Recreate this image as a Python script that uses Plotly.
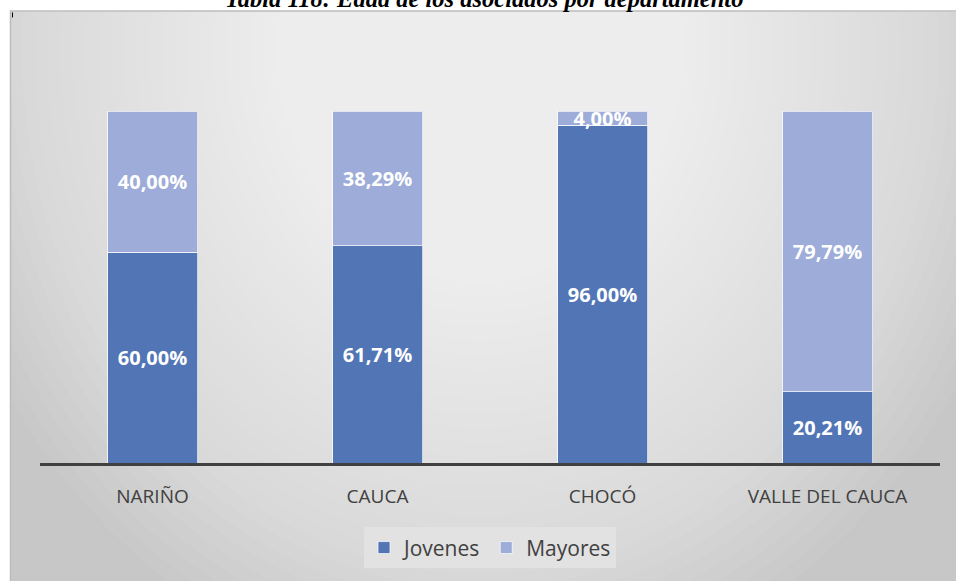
import plotly.graph_objects as go

departamentos = ['NARIÑO', 'CAUCA', 'CHOCÓ', 'VALLE DEL CAUCA']
jovenes = [60.00, 61.71, 96.00, 20.21]
mayores = [40.00, 38.29, 4.00, 79.79]
titulo = 'Tabla 118: Edad de los asociados por departamento'

W, H = 956, 581
PLOT_L, PLOT_R = 40, 940   # pixeles
PLOT_B = 463
Y_MAX = 120
PLOT_T = PLOT_B - 352 * Y_MAX / 100


def px_x(x):
    return (x - PLOT_L) / (PLOT_R - PLOT_L)


def px_y(y):
    return (PLOT_B - y) / (PLOT_B - PLOT_T)


def etiqueta(v):
    return f'{v:.2f}'.replace('.', ',') + '%'


def fondo():
    shapes = [dict(type='rect', xref='paper', yref='paper', layer='below',
                   x0=px_x(10), x1=px_x(980), y0=px_y(11), y1=px_y(600),
                   fillcolor='#c7c7c7', line=dict(width=0))]
    n = 44
    cx, cy = 480, 50
    for i in range(n):
        rx = 560 * (1 - i / n)
        ry = 640 * (1 - i / n)
        shapes.append(dict(type='circle', xref='paper', yref='paper', layer='below',
                           x0=px_x(cx - rx), x1=px_x(cx + rx),
                           y0=px_y(cy + ry), y1=px_y(cy - ry),
                           fillcolor='white', opacity=0.05, line=dict(width=0)))
    # blanco fuera del marco
    shapes.append(dict(type='rect', xref='paper', yref='paper', layer='below',
                       x0=px_x(-20), x1=px_x(10), y0=px_y(-20), y1=px_y(600),
                       fillcolor='white', line=dict(width=0)))
    shapes.append(dict(type='rect', xref='paper', yref='paper', layer='below',
                       x0=px_x(-20), x1=px_x(990), y0=px_y(-20), y1=px_y(10),
                       fillcolor='white', line=dict(width=0)))
    shapes.append(dict(type='rect', xref='paper', yref='paper', layer='below',
                       x0=px_x(10.5), x1=px_x(990), y0=px_y(10.5), y1=px_y(600),
                       fillcolor='rgba(0,0,0,0)', line=dict(color='#bcbcbc', width=1.5)))
    # marquita que aparece en la esquina
    shapes.append(dict(type='line', xref='paper', yref='paper', layer='above',
                       x0=px_x(12.5), x1=px_x(12.5), y0=px_y(12), y1=px_y(17),
                       line=dict(color='black', width=1)))
    return shapes


def plot_barras():
    fig = go.Figure()
    fig.add_trace(go.Bar(
        x=departamentos, y=jovenes, name='Jovenes',
        marker=dict(color='#5275b6', line=dict(color='rgba(255,255,255,0.7)', width=1)),
        text=[etiqueta(v) for v in jovenes], textposition='inside',
        insidetextanchor='middle', constraintext='none',
        textfont=dict(family='Open Sans', size=20, color='white', weight='bold'),
        hoverinfo='skip'
    ))
    fig.add_trace(go.Bar(
        x=departamentos, y=mayores, name='Mayores',
        marker=dict(color='#9dacd8', line=dict(color='rgba(255,255,255,0.7)', width=1)),
        text=[etiqueta(v) for v in mayores], textposition='inside',
        insidetextanchor='middle', constraintext='none',
        textfont=dict(family='Open Sans', size=20, color='white', weight='bold'),
        hoverinfo='skip'
    ))

    fig.update_layout(
        width=W, height=H,
        barmode='stack', bargap=0.6,
        margin=dict(l=PLOT_L, r=W - PLOT_R, t=PLOT_T, b=H - PLOT_B, pad=0),
        paper_bgcolor='white', plot_bgcolor='rgba(0,0,0,0)',
        font=dict(family='Open Sans', color='#404040'),
        uniformtext=dict(minsize=20, mode='show'),
        showlegend=True,
        legend=dict(orientation='h', x=px_x(490), xanchor='center', y=px_y(548), yanchor='middle',
                    bgcolor='#e2e2e2', font=dict(size=21, color='#404040'),
                    itemclick=False, itemdoubleclick=False,
                    itemwidth=30, borderwidth=0, traceorder='normal'),
        shapes=fondo(),
        annotations=[dict(text=titulo, xref='paper', yref='paper',
                          x=px_x(484), y=px_y(-1.5), xanchor='center', yanchor='middle',
                          showarrow=False,
                          font=dict(family='Liberation Serif', size=24.5, color='black',
                                    weight='bold', style='italic'))],
    )
    fig.update_xaxes(showline=True, linecolor='#404040', linewidth=3,
                     ticks='outside', ticklen=14, tickcolor='rgba(0,0,0,0)',
                     tickfont=dict(size=19, color='#404040'), showgrid=False)
    fig.update_yaxes(range=[0, Y_MAX], visible=False, showgrid=False)

    fig.write_html('out.html', config={'displayModeBar': False},
                   post_script="document.body.style.margin='0';")


if __name__ == '__main__':
    plot_barras()
